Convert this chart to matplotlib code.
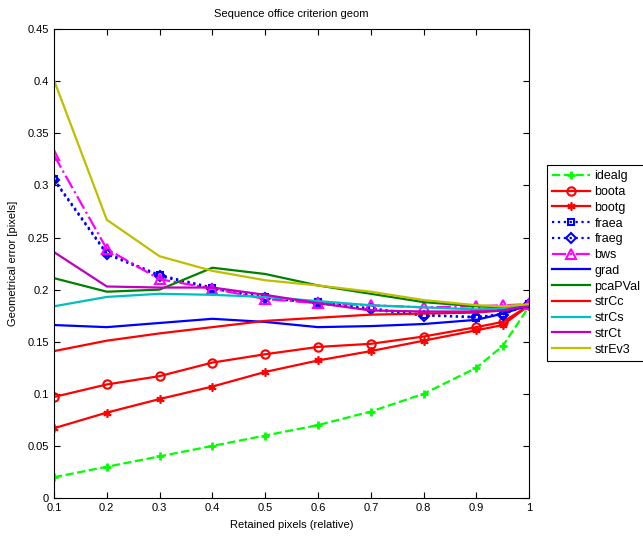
import matplotlib.pyplot as plt
import numpy as np

plt.rcParams['font.family'] = ['Liberation Sans', 'DejaVu Sans']
plt.rcParams['font.size'] = 8

# retained pixel fractions
x = [0.1, 0.2, 0.3, 0.4, 0.5, 0.6, 0.7, 0.8, 0.9, 0.95, 1.0]

idealg = [0.020, 0.030, 0.040, 0.050, 0.060, 0.070, 0.083, 0.100, 0.125, 0.146, 0.184]
boota = [0.097, 0.109, 0.117, 0.130, 0.138, 0.145, 0.148, 0.155, 0.164, 0.169, 0.185]
bootg = [0.067, 0.082, 0.095, 0.107, 0.121, 0.132, 0.141, 0.151, 0.161, 0.166, 0.185]
fraea = [0.306, 0.235, 0.214, 0.202, 0.193, 0.188, 0.182, 0.176, 0.173, 0.177, 0.186]
fraeg = [0.305, 0.234, 0.213, 0.201, 0.192, 0.187, 0.181, 0.175, 0.174, 0.176, 0.186]
bws = [0.329, 0.239, 0.210, 0.201, 0.191, 0.187, 0.185, 0.183, 0.184, 0.185, 0.186]
grad = [0.166, 0.164, 0.168, 0.172, 0.169, 0.164, 0.165, 0.167, 0.171, 0.177, 0.185]
pcaPVal = [0.211, 0.198, 0.200, 0.221, 0.215, 0.204, 0.196, 0.188, 0.184, 0.183, 0.185]
strCc = [0.141, 0.151, 0.158, 0.164, 0.170, 0.173, 0.176, 0.177, 0.178, 0.180, 0.185]
strCs = [0.184, 0.193, 0.196, 0.195, 0.193, 0.189, 0.185, 0.183, 0.181, 0.182, 0.185]
strCt = [0.236, 0.203, 0.202, 0.202, 0.195, 0.187, 0.180, 0.179, 0.179, 0.180, 0.185]
strEv3 = [0.401, 0.267, 0.232, 0.218, 0.209, 0.204, 0.198, 0.190, 0.185, 0.184, 0.186]

fig = plt.figure(figsize=(6.43, 5.39), dpi=100)
ax = fig.add_axes([0.084, 0.076, 0.739, 0.870])

lw = 1.6
ax.plot(x, idealg, color=(0, 1, 0), ls='--', marker='+', ms=6, mew=2, lw=lw, label='idealg')
ax.plot(x, boota, color='red', ls='-', marker='o', ms=6, mfc='none', mew=1.5, lw=lw, label='boota')
ax.plot(x, bootg, color='red', ls='-', marker=(6, 2, 0), ms=6, mew=1.2, lw=lw, label='bootg')
ax.plot(x, fraea, color='blue', ls=':', marker='s', ms=5, mfc='none', mew=1.5, lw=lw, label='fraea')
ax.plot(x, fraeg, color='blue', ls=':', marker='D', ms=5, mfc='none', mew=1.5, lw=lw, label='fraeg')
ax.plot(x, bws, color='magenta', ls='-.', marker='^', ms=7, mfc='none', mew=1.5, lw=lw, label='bws')
ax.plot(x, grad, color='blue', lw=lw, label='grad')
ax.plot(x, pcaPVal, color=(0, 0.5, 0), lw=lw, label='pcaPVal')
ax.plot(x, strCc, color='red', lw=lw, label='strCc')
ax.plot(x, strCs, color=(0, 0.75, 0.75), lw=lw, label='strCs')
ax.plot(x, strCt, color=(0.75, 0, 0.75), lw=lw, label='strCt')
ax.plot(x, strEv3, color=(0.75, 0.75, 0), lw=lw, label='strEv3')

ax.set_xlim(0.1, 1)
ax.set_ylim(0, 0.45)
ax.set_xticks(np.arange(1, 11) / 10)
ax.set_xticklabels(['0.1', '0.2', '0.3', '0.4', '0.5', '0.6', '0.7', '0.8', '0.9', '1'])
ax.set_yticks(np.arange(0, 10) * 0.05)
ax.set_yticklabels(['0', '0.05', '0.1', '0.15', '0.2', '0.25', '0.3', '0.35', '0.4', '0.45'])
ax.tick_params(direction='in', top=True, right=True, length=4, labelsize=8)

ax.set_title('Sequence office criterion geom', fontsize=8, pad=9)
ax.set_xlabel('Retained pixels (relative)', fontsize=8, labelpad=5)
ax.set_ylabel('Geometrical error [pixels]', fontsize=8, labelpad=7)

leg = ax.legend(loc='upper left', bbox_to_anchor=(0.841, 0.705), bbox_transform=fig.transFigure,
                fontsize=9, handlelength=3.0, labelspacing=0.3, borderpad=0.4,
                handletextpad=0.4, fancybox=False, framealpha=1, edgecolor='black')
leg.get_frame().set_linewidth(0.8)

plt.savefig('out.png', dpi=100)
